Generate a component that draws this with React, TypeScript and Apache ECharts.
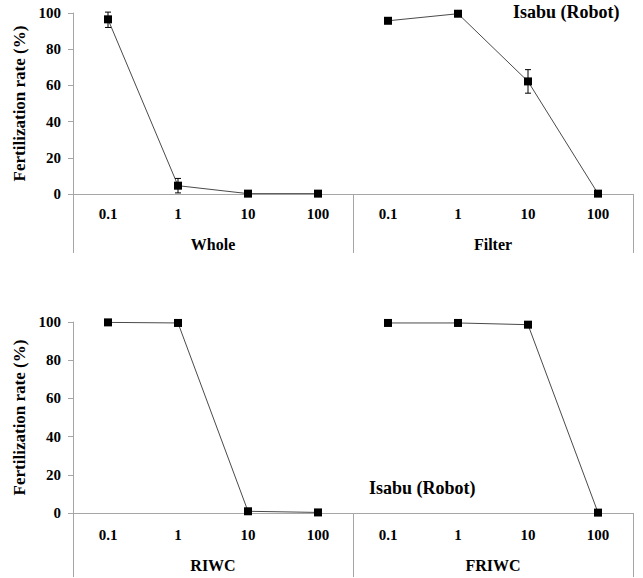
import React, { useEffect, useRef } from "react";
import * as echarts from "echarts";

const concentrations = ["0.1", "1", "10", "100"];
const topGroups = ["Whole", "Filter"];
const bottomGroups = ["RIWC", "FRIWC"];
const wholeRate = [96.5, 4.6, 0.2, 0.2];
const wholeErr = [4.5, 4, 0, 0];
const filterRate = [95.7, 99.6, 62.2, 0.2];
const filterErr = [0, 0, 6.5, 0];
const riwcRate = [99.8, 99.5, 0.9, 0.3];
const riwcErr = [0, 0, 0, 0];
const friwcRate = [99.5, 99.5, 98.6, 0.2];
const friwcErr = [0, 0, 1, 0];
const yTicks = { min: 0, max: 100, interval: 20 };
const annotation = "Isabu (Robot)";
const yTitle = "Fertilization rate (%)";

const FONT = "serif";
const AXIS_GRAY = "#a6a6a6";

function pad(first: (number | null)[], second: (number | null)[]) {
  return [...first, ...second.map(() => null)] as (number | null)[];
}

function errData(rates: number[], errs: number[], offset: number) {
  const out: number[][] = [];
  rates.forEach((r, i) => {
    if (errs[i] > 0) out.push([i + offset, r - errs[i], Math.min(r + errs[i], 100.5)]);
  });
  return out;
}

export default function App() {
  const ref = useRef<HTMLDivElement>(null);
  useEffect(() => {
    if (!ref.current) return;
    const chart = echarts.init(ref.current, null, { renderer: "svg" });
    const cats = [...concentrations, ...concentrations];
    const lineSeries = (data: (number | null)[], idx: number) => ({
      type: "line",
      xAxisIndex: idx * 2,
      yAxisIndex: idx,
      data,
      connectNulls: false,
      symbol: "rect",
      symbolSize: 8,
      itemStyle: { color: "#000" },
      lineStyle: { color: "#4a4a4a", width: 1 },
      z: 3,
    });
    const errSeries = (data: number[][], idx: number) => ({
      type: "custom",
      xAxisIndex: idx * 2,
      yAxisIndex: idx,
      data,
      z: 4,
      renderItem: (params: any, api: any) => {
        const x = api.value(0);
        const lo = api.coord([x, api.value(1)]);
        const hi = api.coord([x, api.value(2)]);
        const w = 3;
        const style = { stroke: "#000", lineWidth: 1 };
        return {
          type: "group",
          children: [
            { type: "line", shape: { x1: lo[0], y1: lo[1], x2: hi[0], y2: hi[1] }, style },
            { type: "line", shape: { x1: lo[0] - w, y1: lo[1], x2: lo[0] + w, y2: lo[1] }, style },
            { type: "line", shape: { x1: hi[0] - w, y1: hi[1], x2: hi[0] + w, y2: hi[1] }, style },
          ],
        };
      },
    });
    const yAxis = (idx: number, nameSize: number) => ({
      type: "value",
      gridIndex: idx,
      ...yTicks,
      name: yTitle,
      nameLocation: "middle",
      nameRotate: 90,
      nameGap: 42,
      nameTextStyle: { fontFamily: FONT, fontWeight: "bold", fontSize: nameSize, color: "#000" },
      axisLine: { show: true, lineStyle: { color: AXIS_GRAY } },
      axisTick: { show: true, length: 5, lineStyle: { color: AXIS_GRAY } },
      splitLine: { show: false },
      axisLabel: { margin: 12, fontFamily: FONT, fontWeight: "bold", fontSize: 15, color: "#000" },
    });
    const xTickAxis = (idx: number, margin: number) => ({
      type: "category",
      gridIndex: idx,
      data: cats,
      position: "bottom",
      axisLine: { show: true, onZero: false, lineStyle: { color: AXIS_GRAY } },
      axisTick: { show: false },
      axisLabel: { margin, interval: 0, fontFamily: FONT, fontWeight: "bold", fontSize: 15, color: "#000" },
    });
    const xGroupAxis = (idx: number, groups: string[], len: number, margin: number) => ({
      type: "category",
      gridIndex: idx,
      data: groups,
      position: "bottom",
      axisLine: { show: false, onZero: false },
      axisTick: { show: true, length: len, lineStyle: { color: AXIS_GRAY } },
      axisLabel: { margin, interval: 0, fontFamily: FONT, fontWeight: "bold", fontSize: 16, color: "#000" },
    });
    chart.setOption({
      animation: false,
      backgroundColor: "#fff",
      textStyle: { fontFamily: FONT },
      grid: [
        { left: 73, right: 10, top: 13, height: 181 },
        { left: 73, right: 10, top: 322, height: 191 },
      ],
      xAxis: [
        xTickAxis(0, 12),
        xGroupAxis(0, topGroups, 59, 42),
        xTickAxis(1, 14),
        xGroupAxis(1, bottomGroups, 64, 44),
      ],
      yAxis: [yAxis(0, 17), yAxis(1, 17)],
      series: [
        lineSeries(pad(wholeRate, filterRate), 0),
        lineSeries([...filterRate.map(() => null), ...filterRate], 0),
        errSeries([...errData(wholeRate, wholeErr, 0), ...errData(filterRate, filterErr, 4)], 0),
        lineSeries(pad(riwcRate, friwcRate), 1),
        lineSeries([...riwcRate.map(() => null), ...friwcRate], 1),
        errSeries([...errData(riwcRate, riwcErr, 0), ...errData(friwcRate, friwcErr, 4)], 1),
      ],
      graphic: [
        {
          type: "text",
          left: 513,
          top: 3,
          style: { text: annotation, fontFamily: FONT, fontWeight: "bold", fontSize: 18, fill: "#000" },
        },
        {
          type: "text",
          left: 369,
          top: 479,
          style: { text: annotation, fontFamily: FONT, fontWeight: "bold", fontSize: 18, fill: "#000" },
        },
      ],
    });
    return () => chart.dispose();
  }, []);
  return (
    <div
      ref={ref}
      style={{ position: "absolute", left: 0, top: 0, width: 643, height: 578 }}
    />
  );
}
